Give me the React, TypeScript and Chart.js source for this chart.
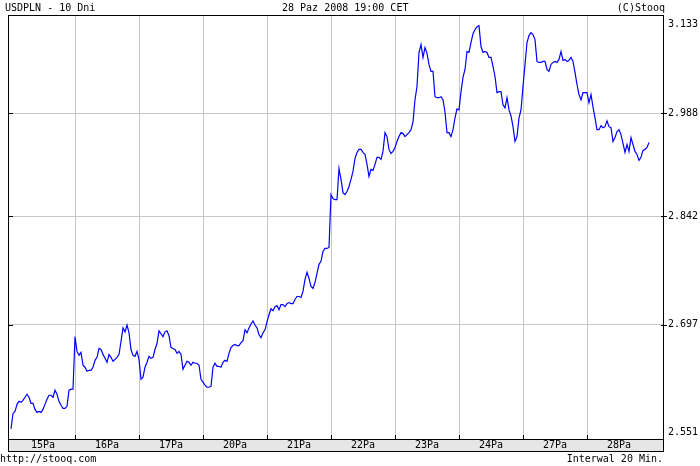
import React, { useEffect, useRef } from 'react';
import { Chart, registerables } from 'chart.js';

Chart.register(...registerables);

// ---- data ----
const dayLabels = ['15Pa', '16Pa', '17Pa', '20Pa', '21Pa', '22Pa', '23Pa', '24Pa', '27Pa', '28Pa'];

const d15 = [2.5637, 2.5828, 2.5853, 2.5942, 2.5980, 2.5968, 2.5993, 2.6031, 2.6069, 2.6031, 2.5955, 2.5955, 2.5879, 2.5841, 2.5853, 2.5841, 2.5879, 2.5942, 2.6006, 2.6057, 2.6057, 2.6031, 2.6120, 2.6069, 2.5980, 2.5930, 2.5891, 2.5891, 2.5917, 2.6120, 2.6133, 2.6133];
const d16 = [2.6807, 2.6616, 2.6565, 2.6603, 2.6438, 2.6413, 2.6362, 2.6374, 2.6374, 2.6413, 2.6502, 2.6540, 2.6654, 2.6641, 2.6578, 2.6527, 2.6476, 2.6578, 2.6540, 2.6489, 2.6514, 2.6540, 2.6578, 2.6743, 2.6921, 2.6870, 2.6959, 2.6858, 2.6641, 2.6565, 2.6553, 2.6616];
const d17 = [2.6514, 2.6260, 2.6286, 2.6413, 2.6476, 2.6553, 2.6527, 2.6540, 2.6641, 2.6718, 2.6883, 2.6845, 2.6807, 2.6870, 2.6883, 2.6819, 2.6667, 2.6654, 2.6641, 2.6591, 2.6616, 2.6578, 2.6387, 2.6438, 2.6489, 2.6476, 2.6438, 2.6476, 2.6464, 2.6464, 2.6438, 2.6260];
const d20 = [2.6222, 2.6184, 2.6158, 2.6158, 2.6171, 2.6413, 2.6464, 2.6425, 2.6425, 2.6413, 2.6476, 2.6502, 2.6489, 2.6591, 2.6667, 2.6692, 2.6705, 2.6692, 2.6692, 2.6730, 2.6756, 2.6896, 2.6858, 2.6921, 2.6972, 2.7012, 2.6959, 2.6921, 2.6832, 2.6794, 2.6858, 2.6896];
const d21 = [2.6999, 2.7093, 2.7173, 2.7146, 2.7200, 2.7213, 2.7160, 2.7227, 2.7227, 2.7200, 2.7240, 2.7254, 2.7240, 2.7240, 2.7294, 2.7334, 2.7334, 2.7321, 2.7401, 2.7562, 2.7656, 2.7576, 2.7468, 2.7442, 2.7522, 2.7643, 2.7764, 2.7804, 2.7938, 2.7978, 2.7978, 2.7992];
const d22 = [2.8718, 2.8662, 2.8647, 2.8647, 2.9085, 2.8930, 2.8746, 2.8718, 2.8760, 2.8831, 2.8930, 2.9043, 2.9227, 2.9311, 2.9354, 2.9354, 2.9311, 2.9283, 2.9142, 2.8972, 2.9071, 2.9057, 2.9142, 2.9241, 2.9241, 2.9212, 2.9326, 2.9594, 2.9537, 2.9354, 2.9297, 2.9326];
const d23 = [2.9382, 2.9467, 2.9537, 2.9594, 2.9580, 2.9537, 2.9566, 2.9594, 2.9636, 2.9749, 3.0069, 3.0262, 3.0766, 3.0885, 3.0692, 3.0841, 3.0752, 3.0588, 3.0485, 3.0485, 3.0114, 3.0099, 3.0099, 3.0114, 3.0069, 2.9891, 2.9594, 2.9594, 2.9537, 2.9636, 2.9806, 2.9936];
const d24 = [2.9921, 3.0188, 3.0396, 3.0514, 3.0781, 3.0766, 3.0915, 3.1048, 3.1108, 3.1152, 3.1167, 3.0855, 3.0766, 3.0781, 3.0766, 3.0692, 3.0692, 3.0559, 3.0410, 3.0173, 3.0188, 3.0188, 2.9995, 2.9951, 3.0099, 2.9921, 2.9834, 2.9679, 2.9467, 2.9537, 2.9806, 2.9921];
const d27 = [3.0262, 3.0588, 3.0915, 3.1019, 3.1063, 3.1033, 3.0959, 3.0633, 3.0618, 3.0618, 3.0633, 3.0633, 3.0514, 3.0485, 3.0588, 3.0618, 3.0633, 3.0618, 3.0663, 3.0781, 3.0648, 3.0663, 3.0633, 3.0648, 3.0692, 3.0633, 3.0470, 3.0292, 3.0144, 3.0069, 3.0173, 3.0173];
const d28 = [3.0173, 3.0025, 3.0144, 2.9966, 2.9806, 2.9636, 2.9636, 2.9693, 2.9665, 2.9679, 2.9763, 2.9679, 2.9665, 2.9467, 2.9523, 2.9608, 2.9636, 2.9566, 2.9439, 2.9311, 2.9424, 2.9326, 2.9523, 2.9424, 2.9326, 2.9283, 2.9198, 2.9241, 2.9340, 2.9354, 2.9382, 2.9453];

const dayValues = [d15, d16, d17, d20, d21, d22, d23, d24, d27, d28];

const yTickValues = [2.551, 2.6965, 2.842, 2.9875, 3.133];
const yTickLabels = ['2.551', '2.697', '2.842', '2.988', '3.133'];

const titleLeft = 'USDPLN - 10 Dni';
const titleCenter = '28 Paz 2008 19:00 CET';
const titleRight = '(C)Stooq';
const footerLeft = 'http://stooq.com';
const footerRight = 'Interwal 20 Min.';

const FONT = '"DejaVu Sans Mono", "Liberation Mono", monospace';

export default function App() {
  const ref = useRef<HTMLCanvasElement | null>(null);

  useEffect(() => {
    const canvas = ref.current;
    if (!canvas) return;

    const points: { x: number; y: number }[] = [];
    dayValues.forEach((vals, k) => {
      const n = vals.length;
      vals.forEach((v, i) => points.push({ x: k + i / n, y: v }));
    });

    const frame = {
      id: 'stooqFrame',
      beforeDraw(chart: any) {
        const { ctx, width, height } = chart;
        ctx.save();
        ctx.fillStyle = '#ffffff';
        ctx.fillRect(0, 0, width, height);
        ctx.restore();
      },
      afterDraw(chart: any) {
        const { ctx, chartArea: a, scales } = chart;
        const xs = scales.x;
        const ys = scales.y;
        const L = Math.round(a.left);
        const R = Math.round(a.right);
        const T = Math.round(a.top);
        const B = Math.round(a.bottom);
        const bandB = B + 12;
        ctx.save();
        // date band
        ctx.fillStyle = '#e6e6e6';
        ctx.fillRect(L, B, R - L, bandB - B);
        ctx.strokeStyle = '#000000';
        ctx.lineWidth = 1;
        ctx.beginPath();
        ctx.moveTo(L, T + 0.5); ctx.lineTo(R + 1, T + 0.5);
        ctx.moveTo(L, B + 0.5); ctx.lineTo(R + 1, B + 0.5);
        ctx.moveTo(L, bandB + 0.5); ctx.lineTo(R + 1, bandB + 0.5);
        ctx.moveTo(L + 0.5, T); ctx.lineTo(L + 0.5, bandB + 1);
        ctx.moveTo(R + 0.5, T); ctx.lineTo(R + 0.5, bandB + 1);
        for (let k = 1; k < dayLabels.length; k++) {
          const px = Math.round(xs.getPixelForValue(k)) + 0.5;
          ctx.moveTo(px, B - 4); ctx.lineTo(px, B);
        }
        for (let i = 1; i < yTickValues.length - 1; i++) {
          const py = Math.round(ys.getPixelForValue(yTickValues[i])) + 0.5;
          ctx.moveTo(L + 1, py); ctx.lineTo(L + 5, py);
          ctx.moveTo(R - 2, py); ctx.lineTo(R + 4, py);
        }
        ctx.stroke();

        ctx.fillStyle = '#000000';
        ctx.textBaseline = 'middle';
        // day labels
        ctx.font = `10px ${FONT}`;
        ctx.textAlign = 'center';
        dayLabels.forEach((lab, k) => {
          const px = xs.getPixelForValue(k + 0.5);
          ctx.fillText(lab, px, B + 6.5);
        });
        // y labels
        ctx.font = `10px ${FONT}`;
        ctx.textAlign = 'left';
        yTickValues.forEach((v, i) => {
          let py = ys.getPixelForValue(v);
          py = Math.min(Math.max(py, T + 9), B - 7);
          ctx.fillText(yTickLabels[i], R + 5, py);
        });
        // titles
        ctx.font = `10px ${FONT}`;
        ctx.textAlign = 'left';
        ctx.fillText(titleLeft, 5, 8);
        ctx.fillText(titleCenter, 282, 8);
        ctx.textAlign = 'right';
        ctx.fillText(titleRight, R + 2, 8);
        // footer
        ctx.textAlign = 'left';
        ctx.fillText(footerLeft, 0, 459);
        ctx.textAlign = 'right';
        ctx.fillText(footerRight, R, 459);
        ctx.restore();
      },
    };

    const chart = new Chart(canvas, {
      type: 'line',
      data: {
        datasets: [
          {
            data: points,
            borderColor: '#0000ff',
            borderWidth: 1.2,
            pointRadius: 0,
            tension: 0,
            fill: false,
          },
        ],
      },
      options: {
        animation: false,
        responsive: false,
        devicePixelRatio: 1,
        events: [],
        layout: { padding: { left: 8, top: 15, right: 37, bottom: 27 } },
        plugins: { legend: { display: false }, tooltip: { enabled: false } },
        scales: {
          x: {
            type: 'linear',
            min: -3 / 64,
            max: 10 + 12 / 64,
            afterBuildTicks: (scale: any) => {
              scale.ticks = dayLabels.slice(1).map((_, i) => ({ value: i + 1 }));
            },
            grid: { color: '#c8c8c8', drawTicks: false, lineWidth: 1 },
            border: { display: false },
            ticks: { display: false },
          },
          y: {
            type: 'logarithmic',
            bounds: 'data',
            min: yTickValues[0],
            max: yTickValues[yTickValues.length - 1],
            afterBuildTicks: (scale: any) => {
              scale.ticks = yTickValues.map((v) => ({ value: v }));
            },
            grid: { color: '#c8c8c8', drawTicks: false, lineWidth: 1 },
            border: { display: false },
            ticks: { display: false },
          },
        },
      },
      plugins: [frame],
    } as any);

    return () => chart.destroy();
  }, []);

  return (
    <div style={{ position: 'absolute', left: 0, top: 0, width: 700, height: 466, background: '#fff' }}>
      <canvas ref={ref} width={700} height={466} style={{ display: 'block', width: 700, height: 466 }} />
    </div>
  );
}
